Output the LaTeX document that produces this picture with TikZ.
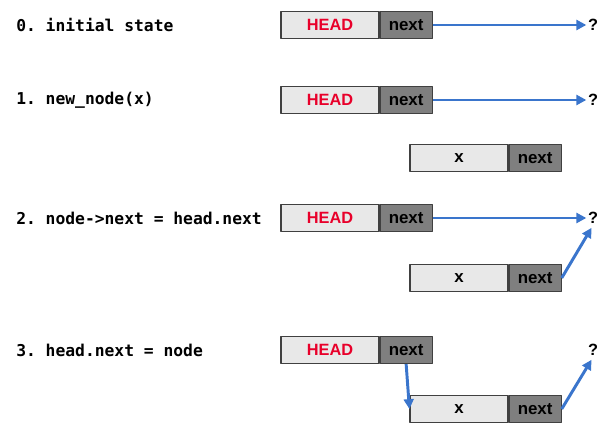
\documentclass[tikz,border=0pt]{standalone}
\usepackage{fontspec}
\setmainfont{Liberation Sans}
\setmonofont{DejaVu Sans Mono}
\usetikzlibrary{positioning,arrows.meta}
\definecolor{headfill}{HTML}{E8E8E8}
\definecolor{nextfill}{HTML}{7F7F7F}
\definecolor{boxline}{HTML}{404040}
\definecolor{headred}{HTML}{E8002A}
\definecolor{ptrblue}{HTML}{3A75CC}
\tikzset{
	databox/.style={draw=boxline, line width=0.8pt, fill=headfill, minimum width=2.45cm, minimum height=0.675cm, inner sep=0pt, font=\fontsize{12}{13}\selectfont\bfseries},
	nextbox/.style={draw=boxline, line width=0.8pt, fill=nextfill, minimum width=1.3cm, minimum height=0.675cm, inner sep=0pt, font=\fontsize{12}{13}\selectfont\bfseries},
	headtext/.style={text=headred, font=\fontsize{11.6}{13}\selectfont\bfseries},
	steplabel/.style={anchor=west, inner sep=0pt, font=\fontsize{11.6}{13}\selectfont\ttfamily\bfseries},
	qmark/.style={inner sep=1pt, font=\fontsize{11.6}{13}\selectfont\bfseries},
	ptr/.style={draw=ptrblue, line width=2.1pt, -{Triangle[length=7pt,width=7pt]}}
}
\begin{document}
\begin{tikzpicture}[x=0.025cm, y=-0.025cm, line join=round]
	\useasboundingbox (0,0) rectangle (614,446);
	
	% 0. initial state
	\node[steplabel] (lbl0) at (16,25) {0. initial state};
	\node[databox, headtext] (head0) at (330,25) {HEAD};
	\node[nextbox, right=0pt of head0] (next0) {next};
	\node[qmark] (q0) at (593,25) {?};
	\draw[ptr] (next0) -- (q0);
	
	% 1. new_node(x)
	\node[steplabel] (lbl1) at (16,100) {1. new\_node(x)};
	\node[databox, headtext] (head1) at (330,100) {HEAD};
	\node[nextbox, right=0pt of head1] (next1) {next};
	\node[qmark] (q1) at (593,100) {?};
	\draw[ptr] (next1) -- (q1);
	\node[databox] (x1) at (459,158) {x};
	\node[nextbox, right=0pt of x1] (xnext1) {next};
	
	% 2. node->next = head.next
	\node[steplabel] (lbl2) at (16,218) {2. node->next = head.next};
	\node[databox, headtext] (head2) at (330,218) {HEAD};
	\node[nextbox, right=0pt of head2] (next2) {next};
	\node[qmark] (q2) at (593,218) {?};
	\draw[ptr] (next2) -- (q2);
	\node[databox] (x2) at (459,278) {x};
	\node[nextbox, right=0pt of x2] (xnext2) {next};
	\draw[ptr, shorten >=2pt] (xnext2.east) -- (q2.south);
	
	% 3. head.next = node
	\node[steplabel] (lbl3) at (16,350) {3. head.next = node};
	\node[databox, headtext] (head3) at (330,350) {HEAD};
	\node[nextbox, right=0pt of head3] (next3) {next};
	\node[qmark] (q3) at (593,350) {?};
	\node[databox] (x3) at (459,409) {x};
	\node[nextbox, right=0pt of x3] (xnext3) {next};
	\draw[ptr] (next3.south) -- (x3.west);
	\draw[ptr, shorten >=2pt] (xnext3.east) -- (q3.south);
\end{tikzpicture}
\end{document}
